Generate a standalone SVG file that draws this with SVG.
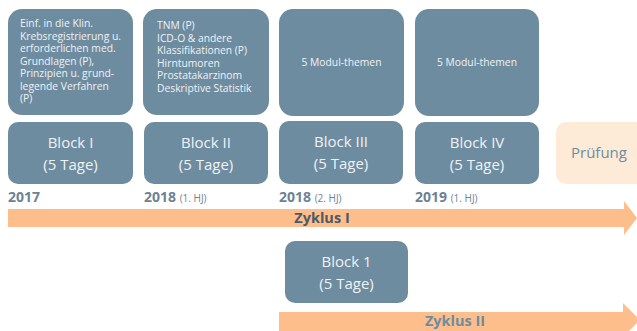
<svg xmlns="http://www.w3.org/2000/svg" width="637" height="331" viewBox="0 0 637 331">
<style>
.box{fill:#6e8ca0;}
.exam{fill:#fdebd8;}
.arrow{fill:#fdbe8b;}
text{font-family:"Open Sans","Liberation Sans",sans-serif;}
.small{font-size:10.3px;fill:#eef2f5;}
.blk{font-size:15px;fill:#eef2f5;text-anchor:middle;}
.year{font-size:14px;font-weight:bold;fill:#6e8294;}
.hj{font-size:10px;font-weight:normal;}
.zy{font-size:14.5px;font-weight:bold;text-anchor:middle;}
</style>
<g id="connectors">
<polygon class="arrow" points="8,209 624,209 624,201 637,218 624,235 624,227 8,227"/>
<polygon class="arrow" points="279,312 623,312 623,303 640,320 623,337 623,331 279,331"/>
</g>
<g id="topic1">
<rect class="box" x="8" y="9" width="125" height="106" rx="14"/>
<text class="small" x="20" y="27">Einf. in die Klin.</text>
<text class="small" x="20" y="39.5">Krebsregistrierung u.</text>
<text class="small" x="20" y="52">erforderlichen med.</text>
<text class="small" x="20" y="64.5">Grundlagen (P),</text>
<text class="small" x="20" y="77">Prinzipien u. grund-</text>
<text class="small" x="20" y="89.5">legende Verfahren</text>
<text class="small" x="20" y="102">(P)</text>
</g>
<g id="topic2">
<rect class="box" x="143" y="9" width="126" height="106" rx="14"/>
<text class="small" x="157" y="29">TNM (P)</text>
<text class="small" x="157" y="41.5">ICD-O &amp; andere</text>
<text class="small" x="157" y="54">Klassifikationen (P)</text>
<text class="small" x="157" y="66.5">Hirntumoren</text>
<text class="small" x="157" y="79">Prostatakarzinom</text>
<text class="small" x="157" y="91.5">Deskriptive Statistik</text>
</g>
<g id="topic3">
<rect class="box" x="279" y="9" width="125" height="107" rx="14"/>
<text class="small" x="341.5" y="66" text-anchor="middle">5 Modul-themen</text>
</g>
<g id="topic4">
<rect class="box" x="415" y="9" width="124" height="107" rx="14"/>
<text class="small" x="477" y="66" text-anchor="middle">5 Modul-themen</text>
</g>
<g id="block1">
<rect class="box" x="8" y="122" width="125" height="62" rx="10"/>
<text class="blk" x="70.5" y="148">Block I</text>
<text class="blk" x="70.5" y="170">(5 Tage)</text>
</g>
<g id="block2">
<rect class="box" x="144" y="122" width="124" height="62" rx="10"/>
<text class="blk" x="206" y="148">Block II</text>
<text class="blk" x="206" y="170">(5 Tage)</text>
</g>
<g id="block3">
<rect class="box" x="279" y="121" width="124" height="63" rx="10"/>
<text class="blk" x="341" y="147">Block III</text>
<text class="blk" x="341" y="169">(5 Tage)</text>
</g>
<g id="block4">
<rect class="box" x="415" y="122" width="124" height="62" rx="10"/>
<text class="blk" x="477" y="148">Block IV</text>
<text class="blk" x="477" y="170">(5 Tage)</text>
</g>
<g id="pruefung">
<rect class="exam" x="556" y="122" width="95" height="62" rx="10"/>
<text class="blk" x="599" y="158" style="fill:#6e8ca0">Prüfung</text>
</g>
<g id="years">
<text class="year" x="8" y="202">2017</text>
<text class="year" x="144" y="202">2018 <tspan class="hj">(1. HJ)</tspan></text>
<text class="year" x="279" y="202">2018 <tspan class="hj">(2. HJ)</tspan></text>
<text class="year" x="415" y="202">2019 <tspan class="hj">(1. HJ)</tspan></text>
</g>
<g id="zyklus1-label">
<text class="zy" x="322" y="223" fill="#4b5a68">Zyklus I</text>
</g>
<g id="block-z2">
<rect class="box" x="285" y="241" width="123" height="62" rx="10"/>
<text class="blk" x="346.5" y="267">Block 1</text>
<text class="blk" x="346.5" y="289">(5 Tage)</text>
</g>
<g id="zyklus2-label">
<text class="zy" x="455" y="326" fill="#6e8ca0">Zyklus II</text>
</g>
</svg>
